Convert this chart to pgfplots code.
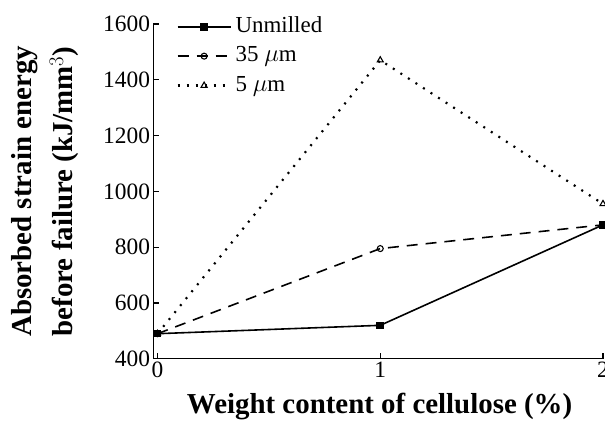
\documentclass[border=0pt]{standalone}
\usepackage{fontspec}
\setmainfont{Liberation Serif}
\usepackage{pgfplots}
\pgfplotsset{compat=1.18}
\begin{document}
\begin{tikzpicture}
\begin{axis}[
    width=451pt, height=336pt, scale only axis,
    xmin=-0.018, xmax=2, ymin=400, ymax=1600,
    axis lines*=left,
    tick align=inside,
    xtick={0,1,2}, ytick={400,600,800,1000,1200,1400,1600},
    xticklabels={0,1,2},
    yticklabels={400,600,800,1000,1200,1400,1600},
    major tick length=6pt,
    tick style={black, line width=1.2pt},
    axis line style={line width=1.2pt},
    tick label style={font=\fontsize{23.5}{26}\selectfont},
    xlabel={Weight content of cellulose (\%)},
    ylabel={Absorbed strain energy\\before failure (kJ/mm$^{3}$)},
    every axis x label/.style={at={(axis description cs:0.503,-0.164)}, anchor=base,
        font=\bfseries\fontsize{29}{41}\selectfont},
    every axis y label/.style={at={(axis description cs:-0.242,0.5)}, anchor=center, rotate=90,
        align=center, font=\bfseries\fontsize{29}{41}\selectfont},
    legend style={draw=none, fill=none, at={(0.051,1.036)}, anchor=north west,
        inner sep=0pt, row sep=0pt,
        nodes={text height=16pt, text depth=5pt, inner ysep=4.25pt, inner xsep=4pt},
        font=\fontsize{23}{26}\selectfont},
    legend cell align=left,
    legend image code/.code={\draw[mark repeat=2,mark phase=2] plot coordinates {(0pt,0pt)(26.5pt,0pt)(53pt,0pt)};},
]
\addplot[black, line width=1.6pt, mark=square*, mark size=3pt] coordinates {
    (0,490) (1,520) (2,880)
};
\addlegendentry{Unmilled}
\addplot[black, line width=1.6pt, dash pattern=on 11pt off 8pt, mark=o, mark size=3pt, mark options={solid, fill=white, line width=1.1pt}] coordinates {
    (0,490) (1,795) (2,880)
};
\addlegendentry{35 $\mu$m}
\addplot[black, line width=2.2pt, dash pattern=on 2pt off 7pt, mark=triangle, mark size=3.5pt, mark options={solid, fill=white, line width=1.1pt}] coordinates {
    (0,490) (1,1470) (2,955)
};
\addlegendentry{5 $\mu$m}
\end{axis}
\pgfresetboundingbox
\path[use as bounding box] ([xshift=-154pt,yshift=-74pt]current axis.south west) rectangle ([xshift=2pt,yshift=24pt]current axis.north east);
\end{tikzpicture}
\end{document}
